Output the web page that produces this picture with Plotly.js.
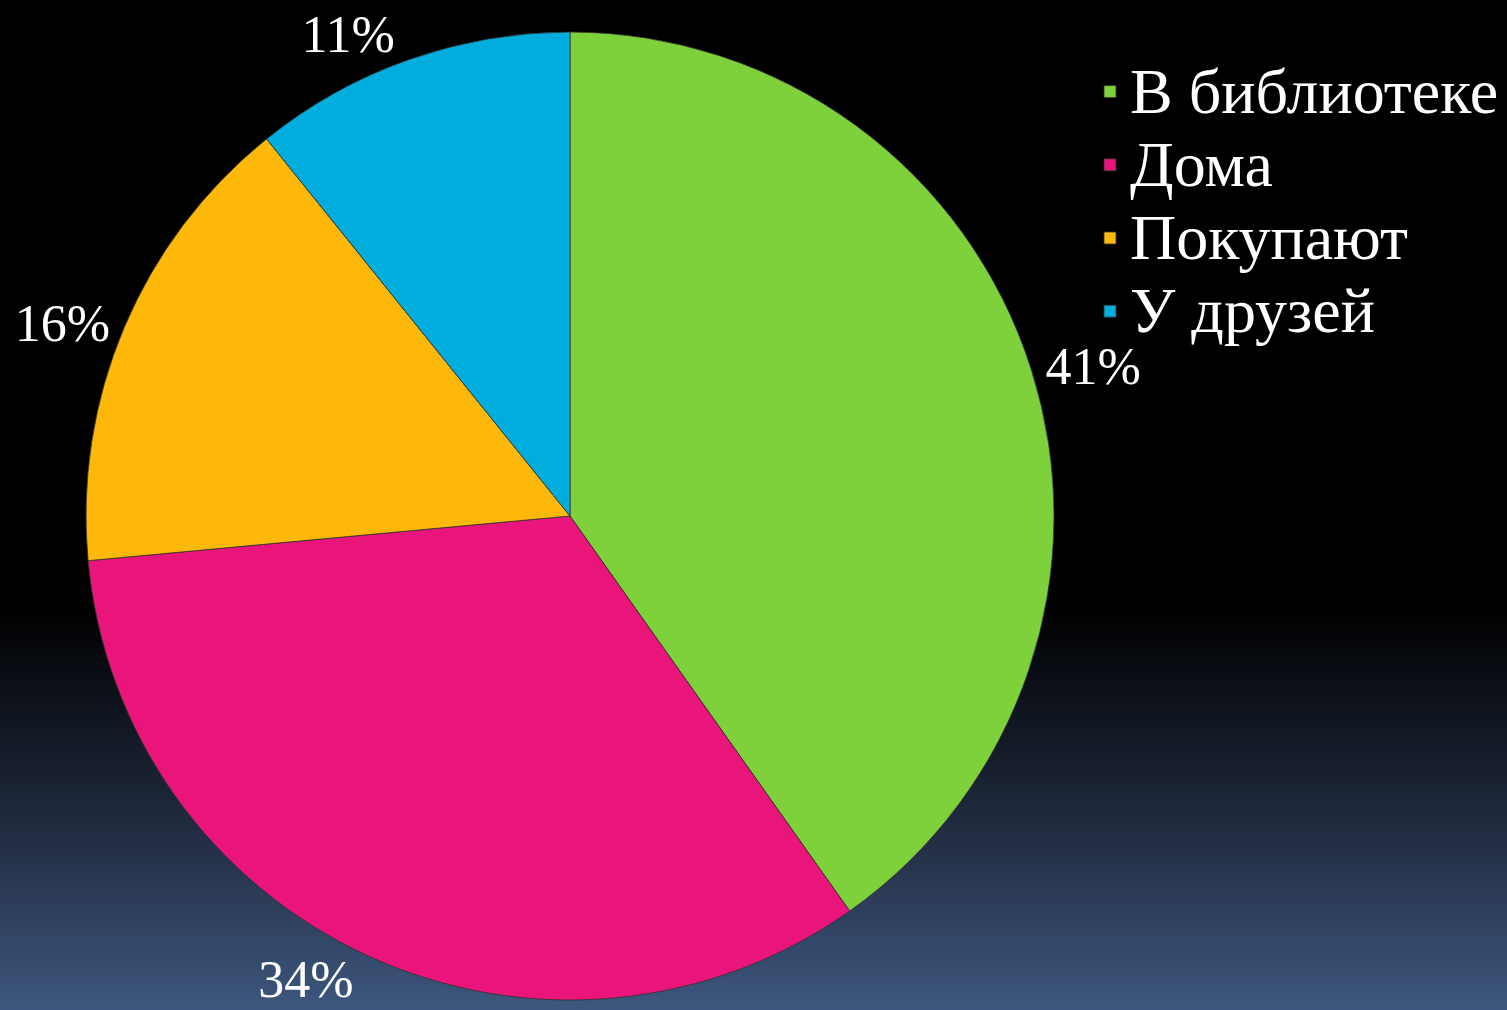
<!DOCTYPE html>
<html>
<head>
<meta charset="utf-8">
<script src="https://cdn.plot.ly/plotly-3.0.1.min.js"></script>
<style>
  html, body { margin: 0; padding: 0; width: 1507px; height: 1010px; overflow: hidden; }
  body { background: linear-gradient(to bottom, #000000 0%, #000000 60%, #111722 72%, #26324a 85%, #3d577e 100%); }
  #chart { width: 1507px; height: 1010px; }
</style>
</head>
<body>
<div id="chart"></div>
<script>
const categories = ['В библиотеке', 'Дома', 'Покупают', 'У друзей'];
const values = [41, 34, 16, 11];
const colors = ['#7FD13B', '#EA157A', '#FEB80A', '#00ADDC'];

const cx = 570, cy = 516, r = 484, W = 1507, H = 1010;
const serif = 'Liberation Serif, Times New Roman, serif';

// legend text drawn at 64px while the row spacing follows the 54px legend font
const legendLabels = categories.map(c => '<span style="font-size:64px">' + c + '</span>');

const data = [{
  type: 'pie',
  labels: legendLabels,
  values: values,
  sort: false,
  direction: 'clockwise',
  rotation: 0,
  marker: { colors: colors, line: { color: 'rgba(50,50,50,0.8)', width: 1 } },
  texttemplate: '%{value}%',
  textposition: 'outside',
  textfont: { family: serif, size: 52, color: '#ffffff' },
  hoverinfo: 'value',
  domain: { x: [(cx - r) / W, (cx + r) / W], y: [(H - cy - r) / H, (H - cy + r) / H] }
}];

const layout = {
  width: W, height: H,
  margin: { l: 0, r: 0, t: 0, b: 0 },
  paper_bgcolor: 'rgba(0,0,0,0)',
  plot_bgcolor: 'rgba(0,0,0,0)',
  showlegend: true,
  legend: {
    x: 1090 / W, xanchor: 'left',
    y: 1 - 50 / H, yanchor: 'top',
    font: { family: serif, size: 54, color: '#ffffff' },
    bgcolor: 'rgba(0,0,0,0)',
    tracegroupgap: 0
  }
};

Plotly.newPlot('chart', data, layout, { displayModeBar: false, staticPlot: true });
</script>
</body>
</html>
